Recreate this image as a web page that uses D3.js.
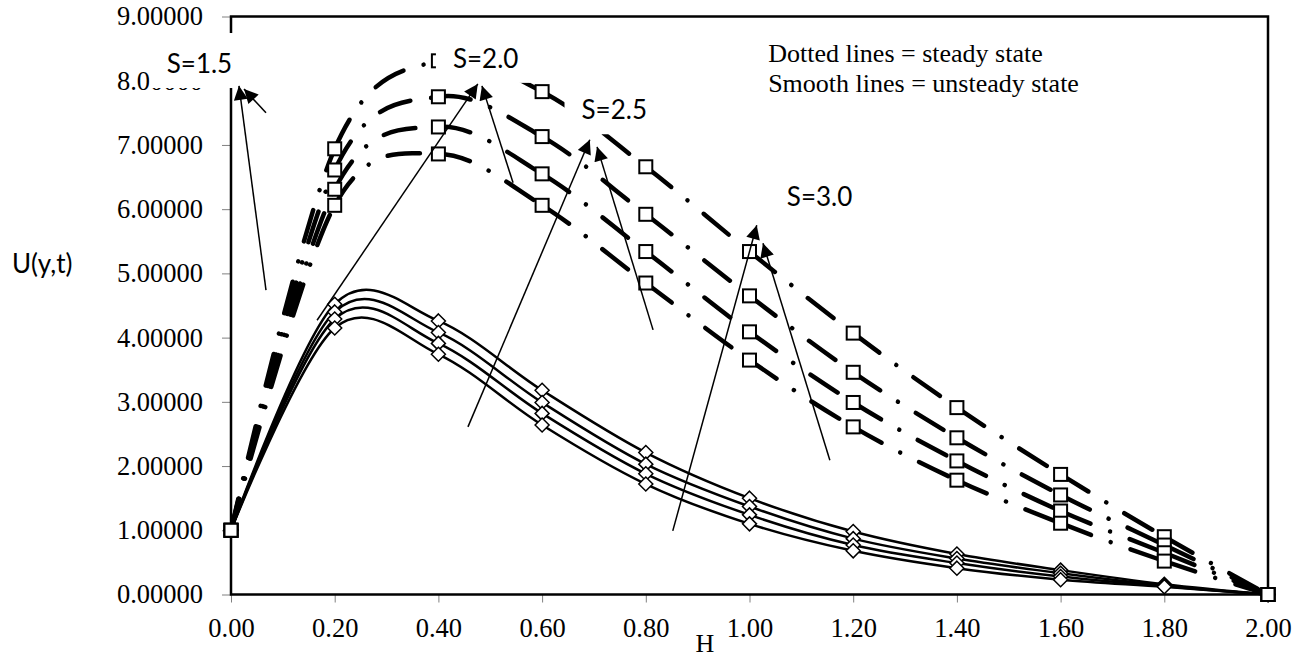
<!DOCTYPE html>
<html>
<head>
<meta charset="utf-8">
<script src="https://cdn.jsdelivr.net/npm/d3@7"></script>
<style>
  body { margin: 0; background: #fff; }
  svg { display: block; }
</style>
</head>
<body>
<div id="plot"></div>
<script>
const margin = { top: 16.5, right: 34, bottom: 64.5, left: 231 };
const width = 1302 - margin.left - margin.right;
const height = 659 - margin.top - margin.bottom;

// H values (x axis) and tick values
const hValues = [0.0, 0.2, 0.4, 0.6, 0.8, 1.0, 1.2, 1.4, 1.6, 1.8, 2.0];
const yTicks = [0, 1, 2, 3, 4, 5, 6, 7, 8, 9];

// unsteady state (smooth lines, diamonds)
const unsteadyA = [1.00, 4.52, 4.26, 3.18, 2.21, 1.50, 0.98, 0.63, 0.38, 0.16, 0.00];
const unsteadyB = [1.00, 4.40, 4.08, 2.99, 2.03, 1.37, 0.87, 0.56, 0.33, 0.14, 0.00];
const unsteadyC = [1.00, 4.29, 3.91, 2.82, 1.88, 1.24, 0.77, 0.49, 0.28, 0.13, 0.00];
const unsteadyD = [1.00, 4.15, 3.74, 2.64, 1.72, 1.10, 0.68, 0.41, 0.23, 0.12, 0.00];

// steady state (dotted lines, squares)
const steadyA = [1.00, 6.94, 8.31, 7.83, 6.66, 5.34, 4.07, 2.91, 1.87, 0.90, 0.00];
const steadyB = [1.00, 6.61, 7.75, 7.13, 5.92, 4.65, 3.46, 2.44, 1.55, 0.77, 0.00];
const steadyC = [1.00, 6.31, 7.28, 6.55, 5.34, 4.09, 2.99, 2.08, 1.30, 0.65, 0.00];
const steadyD = [1.00, 6.06, 6.86, 6.06, 4.85, 3.65, 2.61, 1.78, 1.11, 0.52, 0.00];

// annotations, in data units [H, U]
const sLabels = ["S=1.5", "S=2.0", "S=2.5", "S=3.0"];
const sLabelPos = [[-0.124, 8.12], [0.428, 8.20], [0.676, 7.40], [1.072, 6.05]];
const arrows = [
  [[0.0675, 4.74], [0.0154, 7.92]],
  [[0.0675, 7.50], [0.0251, 7.87]],
  [[0.166, 4.27], [0.476, 7.95]],
  [[0.544, 6.41], [0.484, 7.92]],
  [[0.457, 2.61], [0.692, 7.08]],
  [[0.814, 4.12], [0.706, 6.97]],
  [[0.852, 0.99], [1.014, 5.75]],
  [[1.155, 2.09], [1.026, 5.47]]
];
const legendLines = ["Dotted lines = steady state", "Smooth lines = unsteady state"];
const legendPos = [[1.036, 8.29], [1.036, 7.82]];

const serif = "'Liberation Serif', 'Times New Roman', serif";
const sans = "Lato, 'Open Sans', sans-serif";

const unsteadySeries = [unsteadyA, unsteadyB, unsteadyC, unsteadyD];
const steadySeries = [steadyA, steadyB, steadyC, steadyD];

const x = d3.scaleLinear().domain([0, 2]).range([0, width]);
const y = d3.scaleLinear().domain([0, 9]).range([height, 0]);

const root = d3.select("#plot")
  .append("svg")
  .attr("width", 1302)
  .attr("height", 659);

const svg = root.append("g")
  .attr("transform", `translate(${margin.left},${margin.top})`);

// axes
const xAxis = svg.append("g")
  .attr("transform", `translate(0,${height})`)
  .call(d3.axisBottom(x).tickValues(hValues).tickFormat(d3.format(".2f")).tickSize(8));
xAxis.attr("font-family", serif).attr("font-size", 26.5);
xAxis.select(".domain").remove();
xAxis.selectAll(".tick line").attr("stroke", "#808080");
xAxis.selectAll(".tick text").attr("y", 33.5).attr("dy", "0.35em");

const yAxis = svg.append("g")
  .call(d3.axisLeft(y).tickValues(yTicks).tickFormat(d3.format(".5f")).tickSize(9).tickPadding(19));
yAxis.attr("font-family", serif).attr("font-size", 26.5);
yAxis.select(".domain").remove();
yAxis.selectAll(".tick line").attr("stroke", "#808080");

svg.append("rect")
  .attr("width", width)
  .attr("height", height)
  .attr("fill", "none")
  .attr("stroke", "#000")
  .attr("stroke-width", 2.5);

// split a smoothed line into one path per segment so the dash pattern restarts at each point
function segmentPaths(values) {
  const segs = [];
  let cx, cy;
  const ctx = {
    moveTo(px, py) { cx = px; cy = py; },
    lineTo(px, py) {
      const p = d3.path(); p.moveTo(cx, cy); p.lineTo(px, py);
      segs.push(p.toString()); cx = px; cy = py;
    },
    bezierCurveTo(x1, y1, x2, y2, px, py) {
      const p = d3.path(); p.moveTo(cx, cy); p.bezierCurveTo(x1, y1, x2, y2, px, py);
      segs.push(p.toString()); cx = px; cy = py;
    },
    closePath() {}
  };
  d3.line()
    .x((d, i) => x(hValues[i]))
    .y(d => y(d))
    .curve(d3.curveCardinal.tension(0))
    .context(ctx)(values);
  return segs;
}

const smooth = d3.line()
  .x((d, i) => x(hValues[i]))
  .y(d => y(d))
  .curve(d3.curveCardinal.tension(0));

// unsteady lines
unsteadySeries.forEach(values => {
  svg.append("path")
    .datum(values)
    .attr("fill", "none")
    .attr("stroke", "#000")
    .attr("stroke-width", 2.5)
    .attr("d", smooth);
});

// steady lines (long dash - dot)
steadySeries.forEach(values => {
  svg.append("g").selectAll("path")
    .data(segmentPaths(values))
    .join("path")
    .attr("d", d => d)
    .attr("fill", "none")
    .attr("stroke", "#000")
    .attr("stroke-width", 4.5)
    .attr("stroke-linecap", "round")
    .attr("stroke-dasharray", "32.5 21 0.01 21");
});

// diamond markers
const diamond = "M0,-7L7,0L0,7L-7,0Z";
unsteadySeries.forEach(values => {
  svg.append("g").selectAll("path")
    .data(values)
    .join("path")
    .attr("d", diamond)
    .attr("transform", (d, i) => `translate(${x(hValues[i])},${y(d)})`)
    .attr("fill", "#fff")
    .attr("stroke", "#000")
    .attr("stroke-width", 1.5);
});

// square markers
steadySeries.forEach(values => {
  svg.append("g").selectAll("rect")
    .data(values)
    .join("rect")
    .attr("x", (d, i) => x(hValues[i]) - 6.5)
    .attr("y", d => y(d) - 6.5)
    .attr("width", 13)
    .attr("height", 13)
    .attr("fill", "#fff")
    .attr("stroke", "#000")
    .attr("stroke-width", 2);
});

// S labels with white boxes
sLabels.forEach((label, i) => {
  const [h, u] = sLabelPos[i];
  const box = svg.append("rect").attr("fill", "#fff");
  const t = svg.append("text")
    .attr("x", x(h))
    .attr("y", y(u))
    .attr("font-family", sans)
    .attr("font-size", 26)
    .text(label);
  const len = t.node().getComputedTextLength();
  box.attr("x", x(h) - 17)
    .attr("y", y(u) - 40)
    .attr("width", len + 29)
    .attr("height", 55);
});

// arrows
svg.append("defs").append("marker")
  .attr("id", "arrowhead")
  .attr("viewBox", "0 0 10 10")
  .attr("refX", 10)
  .attr("refY", 5)
  .attr("markerWidth", 17)
  .attr("markerHeight", 14)
  .attr("markerUnits", "userSpaceOnUse")
  .attr("orient", "auto")
  .append("path")
  .attr("d", "M0,0L10,5L0,10Z")
  .attr("fill", "#000");

svg.selectAll(".arrow")
  .data(arrows)
  .join("line")
  .attr("class", "arrow")
  .attr("x1", d => x(d[0][0]))
  .attr("y1", d => y(d[0][1]))
  .attr("x2", d => x(d[1][0]))
  .attr("y2", d => y(d[1][1]))
  .attr("stroke", "#000")
  .attr("stroke-width", 1.5)
  .attr("marker-end", "url(#arrowhead)");

// legend note
legendLines.forEach((line, i) => {
  svg.append("text")
    .attr("x", x(legendPos[i][0]))
    .attr("y", y(legendPos[i][1]))
    .attr("font-family", serif)
    .attr("font-size", 26)
    .text(line);
});

// axis titles
root.append("text")
  .attr("x", 12)
  .attr("y", 264)
  .attr("dy", "0.35em")
  .attr("font-family", sans)
  .attr("font-size", 26)
  .text("U(y,t)");

root.append("text")
  .attr("x", 705)
  .attr("y", 652)
  .attr("text-anchor", "middle")
  .attr("font-family", serif)
  .attr("font-size", 26)
  .text("H");
</script>
</body>
</html>
